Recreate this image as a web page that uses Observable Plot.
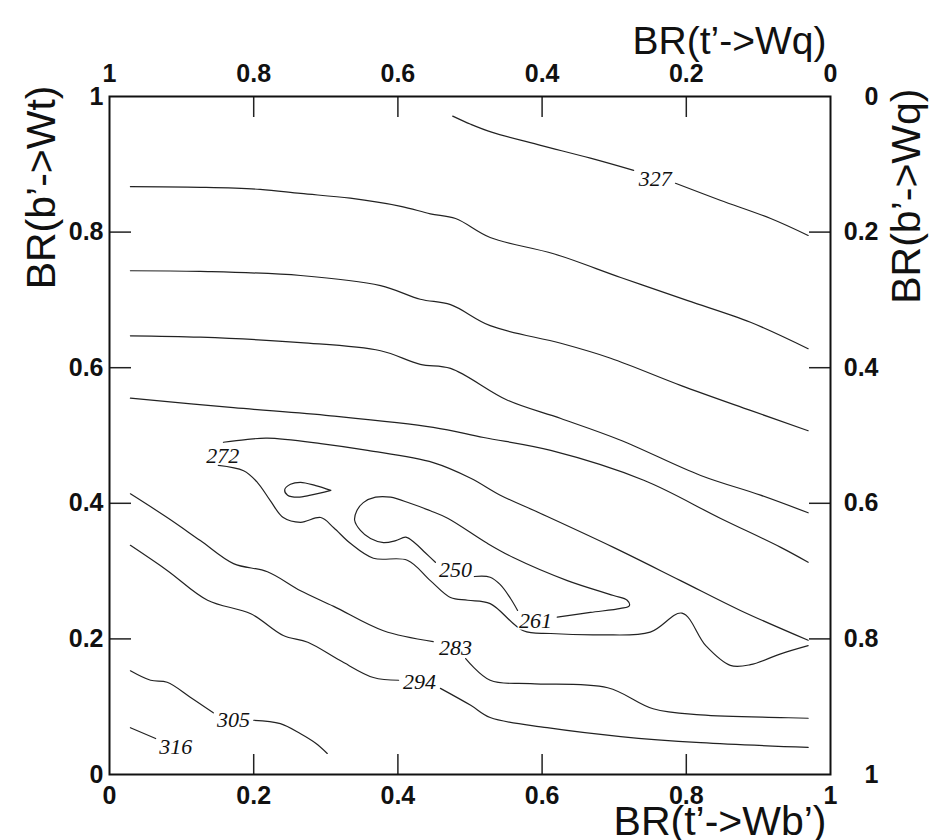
<!DOCTYPE html>
<html>
<head>
<meta charset="utf-8">
<script src="https://cdn.jsdelivr.net/npm/d3@7"></script>
<script src="https://cdn.jsdelivr.net/npm/@observablehq/plot@0.6"></script>
<style>
  html, body { margin: 0; padding: 0; background: #fff; }
  #chart { width: 934px; height: 840px; overflow: hidden; }
</style>
</head>
<body>
<div id="chart"></div>
<script>
// ---- tick values and axis titles ----
const axisTicks = [0, 0.2, 0.4, 0.6, 0.8, 1];
const titleBottom = "BR(t’->Wb’)";
const titleTop = "BR(t’->Wq)";
const titleLeft = "BR(b’->Wt)";
const titleRight = "BR(b’->Wq)";

// ---- contour segments: [BR(t'->Wb'), BR(b'->Wt)] ----
const c327a = [[0.476,0.971],[0.501,0.959],[0.531,0.947],[0.598,0.928],[0.667,0.909],[0.727,0.891]];
const c327b = [[0.785,0.872],[0.847,0.847],[0.917,0.820],[0.969,0.795]];
const c316up = [[0.029,0.867],[0.126,0.866],[0.209,0.863],[0.265,0.857],[0.334,0.850],[0.404,0.838],[0.445,0.827],[0.480,0.820],[0.528,0.792],[0.616,0.768],[0.709,0.733],[0.802,0.699],[0.889,0.667],[0.969,0.628]];
const c305up = [[0.029,0.743],[0.126,0.742],[0.265,0.736],[0.376,0.721],[0.431,0.701],[0.473,0.693],[0.528,0.662],[0.626,0.636],[0.695,0.614],[0.792,0.574],[0.889,0.537],[0.969,0.507]];
const c294up = [[0.029,0.647],[0.126,0.645],[0.265,0.637],[0.376,0.625],[0.431,0.605],[0.473,0.599],[0.552,0.552],[0.626,0.525],[0.709,0.493],[0.820,0.441],[0.903,0.412],[0.969,0.386]];
const c283up = [[0.029,0.555],[0.172,0.541],[0.307,0.529],[0.449,0.512],[0.519,0.497],[0.612,0.478],[0.741,0.434],[0.847,0.378],[0.931,0.335],[0.969,0.313]];
const c272a = [[0.158,0.490],[0.189,0.494],[0.219,0.496],[0.293,0.488],[0.358,0.478],[0.449,0.460],[0.501,0.437],[0.542,0.412],[0.598,0.385],[0.699,0.335],[0.792,0.286],[0.875,0.242],[0.969,0.198]];
const c272b = [[0.151,0.456],[0.186,0.448],[0.205,0.431],[0.223,0.404],[0.241,0.379],[0.265,0.372],[0.293,0.379],[0.311,0.364],[0.334,0.341],[0.366,0.319],[0.413,0.316],[0.445,0.286],[0.473,0.261],[0.497,0.257],[0.528,0.252],[0.574,0.212],[0.612,0.208],[0.681,0.206],[0.750,0.210],[0.794,0.238],[0.827,0.190],[0.861,0.161],[0.889,0.162],[0.931,0.178],[0.969,0.190]];
const c261loop = [[0.452,0.313],[0.438,0.327],[0.424,0.341],[0.411,0.350],[0.397,0.345],[0.380,0.342],[0.362,0.348],[0.348,0.360],[0.340,0.375],[0.343,0.389],[0.352,0.401],[0.369,0.409],[0.390,0.409],[0.417,0.400],[0.445,0.389],[0.469,0.378],[0.524,0.341],[0.560,0.320],[0.635,0.286],[0.699,0.264],[0.718,0.257],[0.721,0.249],[0.709,0.245],[0.667,0.239],[0.621,0.232]];
const c250link = [[0.506,0.292],[0.528,0.291],[0.542,0.280],[0.556,0.260],[0.566,0.242]];
const cTear = [[0.307,0.419],[0.286,0.426],[0.265,0.431],[0.251,0.428],[0.243,0.420],[0.247,0.412],[0.261,0.409],[0.279,0.412],[0.307,0.419]];
const c283a = [[0.029,0.414],[0.080,0.379],[0.126,0.345],[0.172,0.311],[0.219,0.299],[0.265,0.271],[0.311,0.248],[0.380,0.212],[0.449,0.196]];
const c283b = [[0.494,0.171],[0.528,0.139],[0.584,0.134],[0.691,0.128],[0.754,0.097],[0.820,0.088],[0.931,0.084],[0.969,0.083]];
const c294a = [[0.029,0.338],[0.080,0.301],[0.136,0.257],[0.196,0.237],[0.241,0.205],[0.275,0.195],[0.320,0.168],[0.366,0.143],[0.401,0.139]];
const c294b = [[0.459,0.127],[0.501,0.102],[0.528,0.084],[0.607,0.069],[0.709,0.056],[0.820,0.047],[0.969,0.040]];
const c305a = [[0.029,0.153],[0.057,0.139],[0.080,0.136],[0.112,0.114],[0.144,0.091]];
const c305b = [[0.200,0.080],[0.237,0.075],[0.265,0.060],[0.286,0.046],[0.302,0.031]];
const c316a = [[0.029,0.069],[0.064,0.053]];

// ---- contour labels ----
const labelText = ["327", "272", "250", "261", "283", "294", "305", "316"];
const labelX = [0.757, 0.157, 0.480, 0.591, 0.480, 0.430, 0.172, 0.092];
const labelY = [0.879, 0.470, 0.302, 0.226, 0.187, 0.137, 0.080, 0.041];

// ---- build tables for the library ----
const segments = {c327a, c327b, c316up, c305up, c294up, c283up, c272a, c272b, c261loop, c250link, cTear, c283a, c283b, c294a, c294b, c305a, c305b, c316a};
const lineRows = [];
for (const [name, pts] of Object.entries(segments)) {
  for (const [x, y] of pts) lineRows.push({seg: name, x, y});
}
const labels = labelText.map((t, i) => ({t, x: labelX[i], y: labelY[i]}));
const inner = axisTicks.filter(d => d > 0 && d < 1);
const fmt = d => String(+d.toFixed(1));
const fmt1 = d => String(+(1 - d).toFixed(1));

const sans = "'Liberation Sans', Arial, Helvetica, sans-serif";

const chart = Plot.plot({
  width: 934,
  height: 840,
  marginLeft: 109,
  marginRight: 104,
  marginTop: 96,
  marginBottom: 66,
  style: {fontFamily: sans, background: "#fff", color: "#111", overflow: "visible"},
  x: {domain: [0, 1]},
  y: {domain: [0, 1]},
  marks: [
    Plot.line(lineRows, {x: "x", y: "y", z: "seg", stroke: "#222", strokeWidth: 1.2, curve: "catmull-rom"}),
    Plot.text(labels, {x: "x", y: "y", text: "t", fontFamily: "'Liberation Serif', 'Times New Roman', serif", fontStyle: "italic", fontSize: 22, fill: "#111", stroke: "#fff", strokeWidth: 3}),
    // tick marks (inward)
    Plot.axisX(inner, {anchor: "bottom", tickSize: -20, text: null, label: null, stroke: "#222", strokeWidth: 1.5}),
    Plot.axisX(inner, {anchor: "top", tickSize: -20, text: null, label: null, stroke: "#222", strokeWidth: 1.5}),
    Plot.axisY(inner, {anchor: "left", tickSize: -22, text: null, label: null, stroke: "#222", strokeWidth: 1.5}),
    Plot.axisY(inner, {anchor: "right", tickSize: -22, text: null, label: null, stroke: "#222", strokeWidth: 1.5}),
    // tick labels
    Plot.axisX(axisTicks, {anchor: "bottom", tickSize: 0, tickPadding: 12, fontSize: 25, fontWeight: "bold", label: null, tickFormat: fmt}),
    Plot.axisX(axisTicks, {anchor: "top", tickSize: 0, tickPadding: 15, fontSize: 25, fontWeight: "bold", label: null, tickFormat: fmt1}),
    Plot.axisY(axisTicks, {anchor: "left", tickSize: 0, tickPadding: 6, fontSize: 25, fontWeight: "bold", label: null, tickFormat: fmt}),
    Plot.axisY(axisTicks, {anchor: "right", tickSize: 0, tickPadding: 48, textAnchor: "end", fontSize: 25, fontWeight: "bold", label: null, tickFormat: fmt1}),
    Plot.frame({stroke: "#111", strokeWidth: 2}),
    // axis titles
    Plot.text([titleTop], {frameAnchor: "top-right", textAnchor: "end", lineAnchor: "bottom", dx: -4, dy: -43, fontSize: 39, fill: "#111"}),
    Plot.text([titleBottom], {frameAnchor: "bottom-right", textAnchor: "end", lineAnchor: "bottom", dx: -4, dy: 60, fontSize: 41, fill: "#111"}),
    Plot.text([titleLeft], {frameAnchor: "top-left", rotate: -90, textAnchor: "end", dx: -84, dy: -11, fontSize: 41, fill: "#111"}),
    Plot.text([titleRight], {frameAnchor: "top-right", rotate: -90, textAnchor: "end", dx: 60, dy: -8, fontSize: 41, fill: "#111"})
  ]
});
document.getElementById("chart").appendChild(chart);
</script>
</body>
</html>
